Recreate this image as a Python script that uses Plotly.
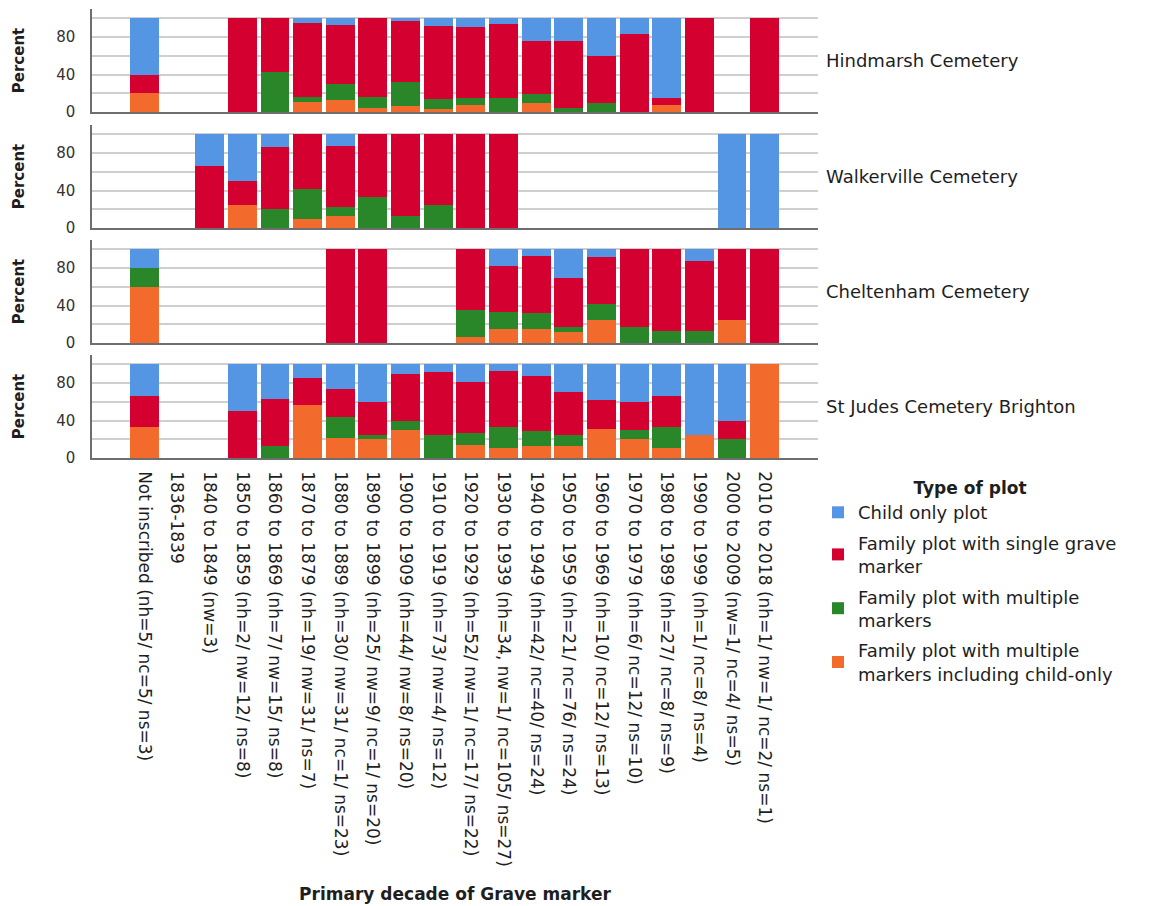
import plotly.graph_objects as go
from plotly.subplots import make_subplots

# Decade categories (x axis)
categories = [
    "Not inscribed (nh=5/ nc=5/ ns=3)",
    "1836-1839",
    "1840 to 1849 (nw=3)",
    "1850 to 1859 (nh=2/ nw=12/ ns=8)",
    "1860 to 1869 (nh=7/ nw=15/ ns=8)",
    "1870 to 1879 (nh=19/ nw=31/ ns=7)",
    "1880 to 1889 (nh=30/ nw=31/ nc=1/ ns=23)",
    "1890 to 1899 (nh=25/ nw=9/ nc=1/ ns=20)",
    "1900 to 1909 (nh=44/ nw=8/ ns=20)",
    "1910 to 1919 (nh=73/ nw=4/ ns=12)",
    "1920 to 1929 (nh=52/ nw=1/ nc=17/ ns=22)",
    "1930 to 1939 (nh=34, nw=1/ nc=105/ ns=27)",
    "1940 to 1949 (nh=42/ nc=40/ ns=24)",
    "1950 to 1959 (nh=21/ nc=76/ ns=24)",
    "1960 to 1969 (nh=10/ nc=12/ ns=13)",
    "1970 to 1979 (nh=6/ nc=12/ ns=10)",
    "1980 to 1989 (nh=27/ nc=8/ ns=9)",
    "1990 to 1999 (nh=1/ nc=8/ ns=4)",
    "2000 to 2009 (nw=1/ nc=4/ ns=5)",
    "2010 to 2018 (nh=1/ nw=1/ nc=2/ ns=1)",
]

cemeteries = ["Hindmarsh Cemetery", "Walkerville Cemetery",
              "Cheltenham Cemetery", "St Judes Cemetery Brighton"]

plot_types = [
    "Child only plot",
    "Family plot with single grave<br>marker",
    "Family plot with multiple<br>markers",
    "Family plot with multiple<br>markers including child-only",
]
plot_colors = ["#5596E4", "#D40030", "#2A8729", "#F26A2C"]

# Percent of plots per decade, one list per cemetery and plot type
hindmarsh_child = [60, 0, 0, 0, 0, 5.3, 6.7, 0, 2.3, 8.2, 9.6, 5.9, 23.8, 23.8, 40, 16.7, 85.2, 0, 0, 0]
hindmarsh_single = [20, 0, 0, 100, 57.1, 78.9, 63.3, 84, 65.9, 78.1, 75, 79.4, 57.1, 71.4, 50, 83.3, 7.4, 100, 0, 100]
hindmarsh_multiple = [0, 0, 0, 0, 42.9, 5.3, 16.7, 12, 25, 11, 7.7, 14.7, 9.5, 4.8, 10, 0, 0, 0, 0, 0]
hindmarsh_multi_child = [20, 0, 0, 0, 0, 10.5, 13.3, 4, 6.8, 2.7, 7.7, 0, 9.5, 0, 0, 0, 7.4, 0, 0, 0]

walkerville_child = [0, 0, 33.3, 50, 13.3, 0, 12.9, 0, 0, 0, 0, 0, 0, 0, 0, 0, 0, 0, 100, 100]
walkerville_single = [0, 0, 66.7, 25, 66.7, 58.1, 64.5, 66.7, 87.5, 75, 100, 100, 0, 0, 0, 0, 0, 0, 0, 0]
walkerville_multiple = [0, 0, 0, 0, 20, 32.3, 9.7, 33.3, 12.5, 25, 0, 0, 0, 0, 0, 0, 0, 0, 0, 0]
walkerville_multi_child = [0, 0, 0, 25, 0, 9.7, 12.9, 0, 0, 0, 0, 0, 0, 0, 0, 0, 0, 0, 0, 0]

cheltenham_child = [20, 0, 0, 0, 0, 0, 0, 0, 0, 0, 0, 18.1, 7.5, 30.3, 8.3, 0, 0, 12.5, 0, 0]
cheltenham_single = [0, 0, 0, 0, 0, 0, 100, 100, 0, 0, 64.7, 48.6, 60, 52.6, 50, 83.3, 87.5, 75, 75, 100]
cheltenham_multiple = [20, 0, 0, 0, 0, 0, 0, 0, 0, 0, 29.4, 18.1, 17.5, 5.3, 16.7, 16.7, 12.5, 12.5, 0, 0]
cheltenham_multi_child = [60, 0, 0, 0, 0, 0, 0, 0, 0, 0, 5.9, 15.2, 15, 11.8, 25, 0, 0, 0, 25, 0]

stjudes_child = [33.3, 0, 0, 50, 37.5, 14.3, 26.1, 40, 10, 8.3, 18.2, 7.4, 12.5, 29.2, 38.5, 40, 33.3, 75, 60, 0]
stjudes_single = [33.3, 0, 0, 50, 50, 28.6, 30.4, 35, 50, 66.7, 54.5, 59.3, 58.3, 45.8, 30.8, 30, 33.3, 0, 20, 0]
stjudes_multiple = [0, 0, 0, 0, 12.5, 0, 21.7, 5, 10, 25, 13.6, 22.2, 16.7, 12.5, 0, 10, 22.2, 0, 20, 0]
stjudes_multi_child = [33.3, 0, 0, 0, 0, 57.1, 21.7, 20, 30, 0, 13.6, 11.1, 12.5, 12.5, 30.8, 20, 11.1, 25, 0, 100]

panels = [
    [hindmarsh_child, hindmarsh_single, hindmarsh_multiple, hindmarsh_multi_child],
    [walkerville_child, walkerville_single, walkerville_multiple, walkerville_multi_child],
    [cheltenham_child, cheltenham_single, cheltenham_multiple, cheltenham_multi_child],
    [stjudes_child, stjudes_single, stjudes_multiple, stjudes_multi_child],
]

W, H = 1164, 906
M_L, M_R, M_T, M_B = 92, 343, 9, 448
plot_h = H - M_T - M_B
panel_bottoms = [112, 228, 343, 458]   # pixel row of the 0% line per panel
panel_height = 103

FONT = "DejaVu Sans"
TEXT = "#1E1E1E"

fig = make_subplots(rows=4, cols=1, shared_xaxes=True)

for r, series in enumerate(panels):
    # stacked from the bottom: multi incl child, multiple, single, child only
    for k in [3, 2, 1, 0]:
        fig.add_trace(
            go.Bar(
                x=categories, y=series[k], name=plot_types[k],
                marker=dict(color=plot_colors[k], line=dict(width=0)),
                legendgroup=plot_types[k], showlegend=(r == 0), legendrank=k + 1,
                hovertemplate="%{x}<br>%{y:.1f}%<extra>" + plot_types[k] + "</extra>",
            ),
            row=r + 1, col=1,
        )

layout_axes = {}
for r in range(4):
    sfx = "" if r == 0 else str(r + 1)
    b = panel_bottoms[r]
    y0 = (H - M_B - b) / plot_h
    y1 = (H - M_B - b + panel_height) / plot_h
    layout_axes["yaxis" + sfx] = dict(
        domain=[y0, y1], range=[0, 110],
        tickvals=[0, 20, 40, 60, 80, 100], ticktext=["0", "", "40", "", "80", ""],
        showgrid=True, gridcolor="#CFCFCF", gridwidth=1.5,
        zeroline=False, showline=True, linecolor="#6E6E6E", linewidth=1.5,
        ticks="", ticklabelstandoff=12,
        tickfont=dict(family=FONT, size=15, color="#333333"),
        title=dict(text="<b>Percent</b>", font=dict(family=FONT, size=15, color=TEXT), standoff=28),
        automargin=False,
    )
    layout_axes["xaxis" + sfx] = dict(
        type="category", range=[-1.6, 20.63],
        showgrid=False, zeroline=False, showline=True, linecolor="#6E6E6E", linewidth=1.5,
        ticks="", showticklabels=(r == 3), tickangle=90,
        tickfont=dict(family=FONT, size=17, color=TEXT),
        automargin=False,
    )
    fig.add_annotation(
        text=cemeteries[r], xref="paper", x=1.0, xshift=6, xanchor="left",
        yref=("y" + sfx + " domain"), y=0.5, yanchor="middle", showarrow=False,
        font=dict(family=FONT, size=18, color=TEXT),
    )

layout_axes["xaxis4"]["ticklabelstandoff"] = 8
layout_axes["xaxis4"]["title"] = dict(
    text="<b>Primary decade of Grave marker</b>",
    font=dict(family=FONT, size=17, color=TEXT), standoff=22,
)

fig.update_layout(**layout_axes)
fig.update_layout(
    width=W, height=H,
    margin=dict(l=M_L, r=M_R, t=M_T, b=M_B),
    barmode="stack", bargap=0.12,
    plot_bgcolor="white", paper_bgcolor="white",
    font=dict(family=FONT, color=TEXT),
    legend=dict(
        title=dict(text="<b>Type of plot</b>", side="top center",
                   font=dict(family=FONT, size=17, color=TEXT)),
        traceorder="grouped", tracegroupgap=4,
        xref="container", yref="container",
        x=818 / W, y=1 - 472 / H, xanchor="left", yanchor="top",
        font=dict(family=FONT, size=18, color=TEXT),
        bgcolor="rgba(0,0,0,0)", itemclick=False,
    ),
)

fig.write_html("out.html")
